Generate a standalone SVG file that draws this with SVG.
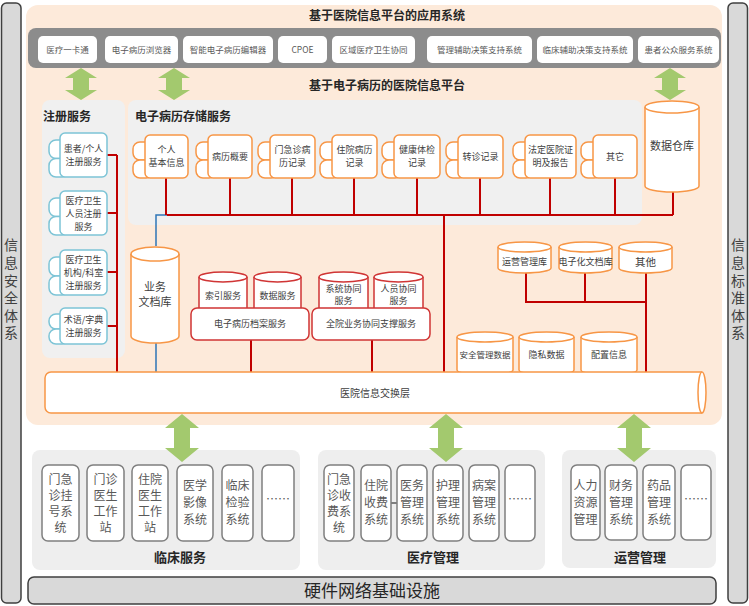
<svg xmlns="http://www.w3.org/2000/svg" width="749" height="606" viewBox="0 0 749 606">
<defs>
<style>
text{font-family:"Noto Sans CJK SC","Liberation Sans",sans-serif;}
.t{font-size:8.5px;fill:#595959;text-anchor:middle;}
.ts{font-size:9px;fill:#404040;text-anchor:middle;}
.tb{font-size:12px;fill:#595959;text-anchor:middle;}
.title{font-size:12px;fill:#262626;text-anchor:middle;font-weight:bold;}
.ptitle{font-size:12px;fill:#262626;font-weight:bold;}
.side{font-size:14px;fill:#404040;writing-mode:vertical-rl;letter-spacing:3.6px;}
.app{fill:#fff;stroke:none;}
.reg{fill:#fff;stroke:#7cc4d6;stroke-width:1.5;}
.emr{fill:#fff;stroke:#f79646;stroke-width:1.5;}
.red{fill:#fff;stroke:#d03535;stroke-width:1.5;}
.sys{fill:#fff;stroke:#7f7f7f;stroke-width:1.5;}
.rl{stroke:#c00000;stroke-width:2;fill:none;}
.bl{stroke:#2e75b6;stroke-width:1.5;fill:none;}
.arr{fill:#a3c96e;}
.sidep{fill:#d9d9d9;stroke:#3f3f3f;stroke-width:1.5;}
</style>
</defs>

<!-- side panels -->
<g id="security">
<rect class="sidep" x="1.5" y="3" width="19.5" height="600" rx="5"/>
<text class="side" x="11" y="238">信息安全体系</text>
</g>
<g id="standard">
<rect class="sidep" x="728" y="3" width="19.5" height="600" rx="5"/>
<text class="side" x="738" y="238">信息标准体系</text>
</g>

<!-- main background -->
<g id="platform-bg">
<rect x="26" y="5" width="696" height="420" rx="12" fill="#fdeada"/>
<text class="title" x="387" y="20">基于医院信息平台的应用系统</text>
<text class="title" x="387" y="90">基于电子病历的医院信息平台</text>
</g>

<!-- application bar -->
<g id="app-bar">
<rect x="28" y="28" width="693" height="40" rx="8" fill="#8c8c8c"/>
<rect class="app" x="38" y="36" width="59" height="27" rx="5"/><text class="t" x="67.5" y="52.5">医疗一卡通</text>
<rect class="app" x="105" y="36" width="73" height="27" rx="5"/><text class="t" x="141.5" y="52.5">电子病历浏览器</text>
<rect class="app" x="183" y="36" width="90" height="27" rx="5"/><text class="t" x="228" y="52.5">智能电子病历编辑器</text>
<rect class="app" x="278" y="36" width="49" height="27" rx="5"/><text class="t" x="302.5" y="52.5">CPOE</text>
<rect class="app" x="332" y="36" width="83" height="27" rx="5"/><text class="t" x="373.5" y="52.5">区域医疗卫生协同</text>
<rect class="app" x="427" y="36" width="105" height="27" rx="5"/><text class="t" x="479.5" y="52.5">管理辅助决策支持系统</text>
<rect class="app" x="537" y="36" width="96" height="27" rx="5"/><text class="t" x="585" y="52.5">临床辅助决策支持系统</text>
<rect class="app" x="638" y="36" width="81" height="27" rx="5"/><text class="t" x="678.5" y="52.5">患者公众服务系统</text>
</g>

<!-- registration panel -->
<g id="registration">
<rect x="42" y="100" width="83" height="258" rx="8" fill="#f0f0f0"/>
<text class="ptitle" x="43" y="121">注册服务</text>
</g>
<!-- EMR storage panel -->
<g id="emr-storage">
<rect x="128" y="100" width="514" height="125" rx="8" fill="#f0f0f0"/>
<text class="ptitle" x="135" y="121">电子病历存储服务</text>
</g>

<!-- connectors -->
<g id="connectors">
<path class="bl" d="M156,246 V215 H170 M156,343 V372"/>
<path class="rl" d="M117,155 V372 M107,155 H117 M107,213 H117 M107,272 H117 M107,326 H117"/>
<path class="rl" d="M167,215 H673 M166,178 V215 M230,178 V215 M292,178 V215 M354,178 V215 M417,178 V215 M480,178 V215 M550,178 V215 M615,178 V215 M673,192 V215"/>
<path class="rl" d="M444,215 V372 M251,340 V372 M372,340 V372"/>
<path class="rl" d="M526,273 V302 H646 M585,273 V302 M646,273 V372"/>
</g>

<!-- registration items -->
<g id="reg-patient">
<rect class="reg" x="49" y="140" width="20" height="18.5" rx="7"/><rect class="reg" x="49" y="158.5" width="20" height="18.5" rx="7"/>
<rect class="reg" x="60" y="133" width="47" height="44" rx="5"/>
<text class="ts"><tspan x="83.5" y="152">患者/个人</tspan><tspan x="83.5" y="165">注册服务</tspan></text>
</g>
<g id="reg-staff">
<rect class="reg" x="49" y="198" width="20" height="18.5" rx="7"/><rect class="reg" x="49" y="216.5" width="20" height="18.5" rx="7"/>
<rect class="reg" x="60" y="191" width="47" height="44" rx="5"/>
<text class="ts"><tspan x="83.5" y="204">医疗卫生</tspan><tspan x="83.5" y="217">人员注册</tspan><tspan x="83.5" y="230">服务</tspan></text>
</g>
<g id="reg-org">
<rect class="reg" x="49" y="257" width="20" height="19" rx="7"/><rect class="reg" x="49" y="276" width="20" height="19" rx="7"/>
<rect class="reg" x="60" y="250" width="47" height="45" rx="5"/>
<text class="ts"><tspan x="83.5" y="263">医疗卫生</tspan><tspan x="83.5" y="276">机构/科室</tspan><tspan x="83.5" y="289">注册服务</tspan></text>
</g>
<g id="reg-term">
<rect class="reg" x="49" y="314" width="20" height="15" rx="7"/><rect class="reg" x="49" y="329" width="20" height="15" rx="7"/>
<rect class="reg" x="60" y="308" width="47" height="36" rx="5"/>
<text class="ts"><tspan x="83.5" y="323">术语/字典</tspan><tspan x="83.5" y="336">注册服务</tspan></text>
</g>

<!-- EMR storage items -->
<g id="emr-personal">
<rect class="emr" x="133" y="142" width="20" height="18" rx="7"/><rect class="emr" x="133" y="160" width="20" height="18" rx="7"/>
<rect class="emr" x="145" y="135" width="43" height="43" rx="5"/>
<text class="ts"><tspan x="166.5" y="153">个人</tspan><tspan x="166.5" y="166">基本信息</tspan></text>
</g>
<g id="emr-summary">
<rect class="emr" x="196" y="142" width="20" height="18" rx="7"/><rect class="emr" x="196" y="160" width="20" height="18" rx="7"/>
<rect class="emr" x="208" y="135" width="44" height="43" rx="5"/>
<text class="ts" x="230" y="160">病历概要</text>
</g>
<g id="emr-outpatient">
<rect class="emr" x="258" y="142" width="20" height="18" rx="7"/><rect class="emr" x="258" y="160" width="20" height="18" rx="7"/>
<rect class="emr" x="270" y="135" width="45" height="43" rx="5"/>
<text class="ts"><tspan x="292.5" y="153">门急诊病</tspan><tspan x="292.5" y="166">历记录</tspan></text>
</g>
<g id="emr-inpatient">
<rect class="emr" x="320" y="142" width="20" height="18" rx="7"/><rect class="emr" x="320" y="160" width="20" height="18" rx="7"/>
<rect class="emr" x="332" y="135" width="45" height="43" rx="5"/>
<text class="ts"><tspan x="354.5" y="153">住院病历</tspan><tspan x="354.5" y="166">记录</tspan></text>
</g>
<g id="emr-checkup">
<rect class="emr" x="382" y="142" width="20" height="18" rx="7"/><rect class="emr" x="382" y="160" width="20" height="18" rx="7"/>
<rect class="emr" x="394" y="135" width="46" height="43" rx="5"/>
<text class="ts"><tspan x="417" y="153">健康体检</tspan><tspan x="417" y="166">记录</tspan></text>
</g>
<g id="emr-referral">
<rect class="emr" x="446" y="142" width="20" height="18" rx="7"/><rect class="emr" x="446" y="160" width="20" height="18" rx="7"/>
<rect class="emr" x="458" y="135" width="45" height="43" rx="5"/>
<text class="ts" x="480.5" y="160">转诊记录</text>
</g>
<g id="emr-legal">
<rect class="emr" x="513" y="142" width="20" height="18" rx="7"/><rect class="emr" x="513" y="160" width="20" height="18" rx="7"/>
<rect class="emr" x="525" y="135" width="51" height="43" rx="5"/>
<text class="ts"><tspan x="550.5" y="153">法定医院证</tspan><tspan x="550.5" y="166">明及报告</tspan></text>
</g>
<g id="emr-other">
<rect class="emr" x="581" y="142" width="20" height="18" rx="7"/><rect class="emr" x="581" y="160" width="20" height="18" rx="7"/>
<rect class="emr" x="593" y="135" width="44" height="43" rx="5"/>
<text class="ts" x="615" y="160">其它</text>
</g>

<!-- data warehouse -->
<g id="data-warehouse">
<path class="emr" d="M645,107 V186 A27,6 0 0 0 699,186 V107 A27,6 0 0 0 645,107 Z"/>
<path class="emr" d="M645,107 A27,6 0 0 0 699,107"/>
<text x="672" y="150" style="font-size:11px;fill:#404040;text-anchor:middle">数据仓库</text>
</g>

<!-- business document repository -->
<g id="biz-docs">
<path class="emr" d="M131,254 V336 A24,7 0 0 0 179,336 V254 A24,7 0 0 0 131,254 Z"/>
<path class="emr" d="M131,254 A24,7 0 0 0 179,254"/>
<text style="font-size:11px;fill:#404040;text-anchor:middle"><tspan x="155" y="291">业务</tspan><tspan x="155" y="306">文档库</tspan></text>
</g>

<!-- EMR archive service -->
<g id="emr-archive">
<path class="red" d="M199,277 V310 A24,5 0 0 0 247,310 V277 A24,5 0 0 0 199,277 Z"/>
<path class="red" d="M199,277 A24,5 0 0 0 247,277"/>
<text class="ts" x="223" y="299">索引服务</text>
<path class="red" d="M254,277 V310 A23.5,5 0 0 0 301,310 V277 A23.5,5 0 0 0 254,277 Z"/>
<path class="red" d="M254,277 A23.5,5 0 0 0 301,277"/>
<text class="ts" x="277.5" y="299">数据服务</text>
<rect class="red" x="191" y="308" width="118" height="32" rx="6"/>
<text class="ts" x="250" y="327">电子病历档案服务</text>
</g>

<!-- collaboration service -->
<g id="collab">
<path class="red" d="M319,277 V310 A24.5,5 0 0 0 368,310 V277 A24.5,5 0 0 0 319,277 Z"/>
<path class="red" d="M319,277 A24.5,5 0 0 0 368,277"/>
<text class="ts"><tspan x="343.5" y="292">系统协同</tspan><tspan x="343.5" y="304">服务</tspan></text>
<path class="red" d="M374,277 V310 A24.5,5 0 0 0 423,310 V277 A24.5,5 0 0 0 374,277 Z"/>
<path class="red" d="M374,277 A24.5,5 0 0 0 423,277"/>
<text class="ts"><tspan x="398.5" y="292">人员协同</tspan><tspan x="398.5" y="304">服务</tspan></text>
<rect class="red" x="312" y="308" width="118" height="32" rx="6"/>
<text class="ts" x="371" y="327">全院业务协同支撑服务</text>
</g>

<!-- ops databases -->
<g id="db-ops">
<path class="emr" d="M498,247 V268 A26.5,5 0 0 0 551,268 V247 A26.5,5 0 0 0 498,247 Z"/>
<path class="emr" d="M498,247 A26.5,5 0 0 0 551,247"/>
<text class="ts" x="524.5" y="265">运营管理库</text>
</g>
<g id="db-edoc">
<path class="emr" d="M559,247 V268 A26.5,5 0 0 0 612,268 V247 A26.5,5 0 0 0 559,247 Z"/>
<path class="emr" d="M559,247 A26.5,5 0 0 0 612,247"/>
<text class="ts" x="585.5" y="265">电子化文档库</text>
</g>
<g id="db-other">
<path class="emr" d="M619,247 V268 A26.5,5 0 0 0 672,268 V247 A26.5,5 0 0 0 619,247 Z"/>
<path class="emr" d="M619,247 A26.5,5 0 0 0 672,247"/>
<text x="645.5" y="266" style="font-size:10.5px;fill:#404040;text-anchor:middle">其他</text>
</g>
<g id="db-security">
<path class="emr" d="M457,337 V370 A28,5 0 0 0 513,370 V337 A28,5 0 0 0 457,337 Z"/>
<path class="emr" d="M457,337 A28,5 0 0 0 513,337"/>
<text x="485" y="358" style="font-size:8.5px;fill:#404040;text-anchor:middle">安全管理数据</text>
</g>
<g id="db-privacy">
<path class="emr" d="M519,337 V370 A27.5,5 0 0 0 574,370 V337 A27.5,5 0 0 0 519,337 Z"/>
<path class="emr" d="M519,337 A27.5,5 0 0 0 574,337"/>
<text class="ts" x="546.5" y="358">隐私数据</text>
</g>
<g id="db-config">
<path class="emr" d="M581,337 V370 A28,5 0 0 0 637,370 V337 A28,5 0 0 0 581,337 Z"/>
<path class="emr" d="M581,337 A28,5 0 0 0 637,337"/>
<text class="ts" x="609" y="358">配置信息</text>
</g>

<!-- exchange layer -->
<g id="exchange">
<path class="emr" d="M51,372 H702 A4,20.5 0 0 1 702,413 H51 A6,6 0 0 1 45,407 V378 A6,6 0 0 1 51,372 Z"/>
<path class="emr" d="M702,372 A4,20.5 0 0 0 702,413"/>
<text x="375" y="397" style="font-size:10px;fill:#404040;text-anchor:middle">医院信息交换层</text>
</g>

<!-- bottom panels -->
<g id="clinical">
<rect x="32" y="450" width="268" height="120" rx="8" fill="#eeeeee"/>
<rect class="sys" x="42" y="465" width="37" height="76" rx="6"/>
<text class="tb"><tspan x="60.5" y="484">门急</tspan><tspan x="60.5" y="500">诊挂</tspan><tspan x="60.5" y="516">号系</tspan><tspan x="60.5" y="532">统</tspan></text>
<rect class="sys" x="87" y="465" width="37" height="76" rx="6"/>
<text class="tb"><tspan x="105.5" y="484">门诊</tspan><tspan x="105.5" y="500">医生</tspan><tspan x="105.5" y="516">工作</tspan><tspan x="105.5" y="532">站</tspan></text>
<rect class="sys" x="132" y="465" width="36" height="76" rx="6"/>
<text class="tb"><tspan x="150" y="484">住院</tspan><tspan x="150" y="500">医生</tspan><tspan x="150" y="516">工作</tspan><tspan x="150" y="532">站</tspan></text>
<rect class="sys" x="177" y="465" width="36" height="76" rx="6"/>
<text class="tb"><tspan x="195" y="490">医学</tspan><tspan x="195" y="507">影像</tspan><tspan x="195" y="524">系统</tspan></text>
<rect class="sys" x="222" y="465" width="31" height="76" rx="6"/>
<text class="tb"><tspan x="237.5" y="490">临床</tspan><tspan x="237.5" y="507">检验</tspan><tspan x="237.5" y="524">系统</tspan></text>
<rect class="sys" x="262" y="465" width="32" height="76" rx="6"/>
<text class="tb" x="278" y="504">……</text>
<text x="180" y="562" style="font-size:13px;fill:#262626;text-anchor:middle;font-weight:bold">临床服务</text>
</g>
<g id="medical-mgmt">
<rect x="318" y="450" width="227" height="120" rx="8" fill="#eeeeee"/>
<path d="M391,503 H397" stroke="#595959" stroke-width="1.5"/>
<rect class="sys" x="324" y="465" width="30" height="76" rx="6"/>
<text class="tb"><tspan x="339" y="484">门急</tspan><tspan x="339" y="500">诊收</tspan><tspan x="339" y="516">费系</tspan><tspan x="339" y="532">统</tspan></text>
<rect class="sys" x="361" y="465" width="30" height="76" rx="6"/>
<text class="tb"><tspan x="376" y="490">住院</tspan><tspan x="376" y="507">收费</tspan><tspan x="376" y="524">系统</tspan></text>
<rect class="sys" x="397" y="465" width="30" height="76" rx="6"/>
<text class="tb"><tspan x="412" y="490">医务</tspan><tspan x="412" y="507">管理</tspan><tspan x="412" y="524">系统</tspan></text>
<rect class="sys" x="433" y="465" width="30" height="76" rx="6"/>
<text class="tb"><tspan x="448" y="490">护理</tspan><tspan x="448" y="507">管理</tspan><tspan x="448" y="524">系统</tspan></text>
<rect class="sys" x="469" y="465" width="30" height="76" rx="6"/>
<text class="tb"><tspan x="484" y="490">病案</tspan><tspan x="484" y="507">管理</tspan><tspan x="484" y="524">系统</tspan></text>
<rect class="sys" x="505" y="465" width="30" height="76" rx="6"/>
<text class="tb" x="520" y="504">……</text>
<text x="433" y="562" style="font-size:13px;fill:#262626;text-anchor:middle;font-weight:bold">医疗管理</text>
</g>
<g id="operations">
<rect x="562" y="450" width="154" height="118" rx="8" fill="#eeeeee"/>
<rect class="sys" x="571" y="465" width="29" height="75" rx="6"/>
<text class="tb"><tspan x="585.5" y="490">人力</tspan><tspan x="585.5" y="507">资源</tspan><tspan x="585.5" y="524">管理</tspan></text>
<rect class="sys" x="605" y="465" width="32" height="75" rx="6"/>
<text class="tb"><tspan x="621" y="490">财务</tspan><tspan x="621" y="507">管理</tspan><tspan x="621" y="524">系统</tspan></text>
<rect class="sys" x="643" y="465" width="32" height="75" rx="6"/>
<text class="tb"><tspan x="659" y="490">药品</tspan><tspan x="659" y="507">管理</tspan><tspan x="659" y="524">系统</tspan></text>
<rect class="sys" x="681" y="465" width="30" height="75" rx="6"/>
<text class="tb" x="696" y="504">……</text>
<text x="640" y="562" style="font-size:13px;fill:#262626;text-anchor:middle;font-weight:bold">运营管理</text>
</g>

<!-- hardware bar -->
<g id="hardware">
<rect x="28" y="577" width="688" height="27" rx="6" fill="#d9d9d9" stroke="#3f3f3f" stroke-width="1.5"/>
<text x="372" y="597" style="font-size:17px;fill:#262626;text-anchor:middle">硬件网络基础设施</text>
</g>

<!-- arrows -->
<g id="arrows">
<polygon class="arr" points="81,68 97,78 89,78 89,90 97,90 81,100 65,90 73,90 73,78 65,78"/>
<polygon class="arr" points="174,68 190,78 182,78 182,90 190,90 174,100 158,90 166,90 166,78 158,78"/>
<polygon class="arr" points="670,68 686,78 678,78 678,90 686,90 670,100 654,90 662,90 662,78 654,78"/>
<polygon class="arr" points="182,414 199,428 190,428 190,448 199,448 182,462 165,448 174,448 174,428 165,428"/>
<polygon class="arr" points="446,414 463,428 454,428 454,448 463,448 446,462 429,448 438,448 438,428 429,428"/>
<polygon class="arr" points="634,414 651,428 642,428 642,448 651,448 634,462 617,448 626,448 626,428 617,428"/>
</g>
</svg>
